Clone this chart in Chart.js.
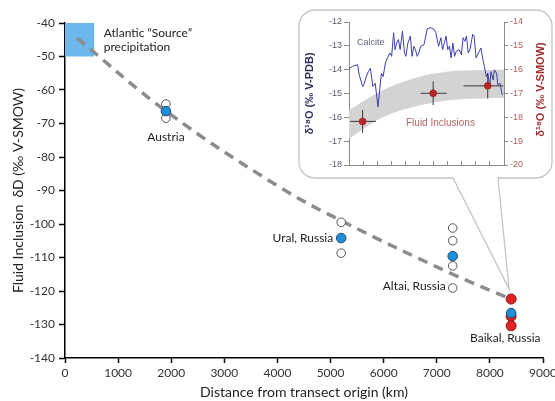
<!DOCTYPE html>
<html><head><meta charset="utf-8">
<script src="https://cdn.jsdelivr.net/npm/chart.js@4"></script>
<style>
html,body{margin:0;padding:0;background:#fff;width:555px;height:401px;overflow:hidden}
#wrap{position:relative;width:555px;height:401px}
#main{position:absolute;left:0;top:0;width:555px;height:401px}
#inset{position:absolute;left:300px;top:12px;width:252px;height:164px}
</style></head><body>
<div id="wrap"><canvas id="main" width="555" height="401"></canvas><canvas id="inset" width="252" height="164"></canvas></div>
<script>
// ---------- main chart data ----------
const sites = ['Austria', 'Ural, Russia', 'Altai, Russia', 'Baikal, Russia'];
const siteDistance = [1900, 5200, 7300, 8400];
const openValues = [[-64.2, -68.4], [-99.5, -108.7], [-101.2, -105.0, -112.5, -119.1], []];
const blueValues = [[-66.3], [-104.2], [-109.6], [-126.6]];
const redValues = [[], [], [], [-122.4, -127.6, -130.4]];
const trendDistance = [226, 1920, 3990, 5200, 7300, 8400];
const trendValues = [-44.5, -66.5, -88.5, -99.0, -115.0, -122.4];
const sourceDistance = [0, 550];
const sourceRange = [-50, -40];
const xTickValues = [0, 1000, 2000, 3000, 4000, 5000, 6000, 7000, 8000, 9000];
const yTickValues = [-140, -130, -120, -110, -100, -90, -80, -70, -60, -50, -40];

// ---------- inset data ----------
const calciteAge = [0, 2.2, 5.5, 6.6, 8.8, 9.9, 11.0, 12.5, 13.8, 15.4, 16.9, 18.7, 19.8, 20.9, 22.0, 23.5, 24.8, 26.4, 27.5, 28.8, 29.7, 30.8, 31.9, 33.0, 34.5, 35.8, 36.7, 38.0, 39.6, 40.7, 41.8, 42.9, 44.0, 45.1, 46.2, 48.4, 50.5, 52.7, 54.9, 56.0, 57.8, 59.3, 60.4, 61.5, 62.6, 63.7, 64.8, 65.9, 67.0, 68.1, 69.2, 71.0, 72.5, 73.6, 74.7, 75.8, 76.9, 78.0, 79.8, 80.7, 82.0, 83.5, 85.1, 86.4, 87.3, 88.6, 89.5, 90.8, 91.6, 93.0, 93.8, 95.2, 96.0, 97.4, 98.9];
const calciteValues = [-13.96, -13.86, -13.79, -14.22, -14.71, -14.57, -14.32, -14.08, -13.94, -14.71, -14.57, -15.56, -14.85, -14.15, -14.29, -13.72, -13.51, -13.30, -13.44, -12.45, -13.16, -12.88, -12.73, -13.16, -12.38, -13.30, -13.44, -12.88, -12.59, -13.44, -13.02, -13.16, -13.44, -13.30, -13.02, -12.95, -12.28, -12.24, -12.31, -12.45, -13.02, -12.66, -13.16, -12.88, -12.59, -13.16, -13.02, -13.51, -12.88, -13.44, -13.23, -13.16, -13.37, -12.66, -12.81, -12.59, -13.30, -13.16, -12.52, -12.59, -13.51, -13.30, -13.09, -13.58, -13.86, -14.29, -14.15, -14.71, -14.08, -14.43, -14.01, -14.15, -14.64, -14.57, -15.06];
const fiAge = [8.8, 54.3, 89.5];
const fiValues = [-18.17, -16.99, -16.68];
const fiAgeErrLow = [8.0, 8.1, 15.6];
const fiAgeErrHigh = [8.5, 8.8, 10.1];
const fiValueErr = [0.48, 0.5, 0.53];
const bandAge = [0, 20, 42, 64, 86, 100];
const bandUpper = [-17.70, -16.92, -16.36, -16.08, -16.01, -16.00];
const bandLower = [-18.90, -18.05, -17.56, -17.28, -17.21, -17.18];
const insetTickValues = [0, 9.09, 18.18, 27.27, 36.36, 45.45, 54.55, 63.64, 72.73, 81.82, 90.91, 100];

// ---------- build point lists ----------
function pts(groups) {
  const out = [];
  groups.forEach((vals, i) => vals.forEach(v => out.push({ x: siteDistance[i], y: v })));
  return out;
}
const FONT = 'Lato, "Open Sans", sans-serif';

const mainPlugin = {
  id: 'mainDecor',
  beforeDatasetsDraw(chart) {
    const { ctx, scales: { x, y } } = chart;
    ctx.save();
    ctx.fillStyle = '#6cb8ec';
    const x0 = x.getPixelForValue(sourceDistance[0]), x1 = x.getPixelForValue(sourceDistance[1]);
    const y0 = y.getPixelForValue(sourceRange[1]), y1 = y.getPixelForValue(sourceRange[0]);
    ctx.fillRect(x0, y0, x1 - x0, y1 - y0);
    ctx.restore();
  },
  afterDatasetsDraw(chart) {
    const { ctx, scales: { x, y } } = chart;
    ctx.save();
    ctx.fillStyle = '#222';
    ctx.font = '12px ' + FONT;
    ctx.textBaseline = 'middle';
    const put = (t, dx, dy, align) => { ctx.textAlign = align; ctx.fillText(t, x.getPixelForValue(dx), y.getPixelForValue(dy)); };
    put('Atlantic \u201cSource\u201d', 730, -43.0, 'left');
    put('precipitation', 730, -47.3, 'left');
    put(sites[0], 1900, -74.0, 'center');
    put(sites[1], 5050, -104.2, 'right');
    put(sites[2], 7170, -118.6, 'right');
    put(sites[3], 8290, -134.2, 'center');
    ctx.restore();
  },
  afterDraw(chart) {
    const { ctx, scales: { x, y } } = chart;
    const L = 299, T = 10, R = 552, B = 178, r = 16, tl = 453, tr = 498;
    const tipX = x.getPixelForValue(siteDistance[3]) - 2;
    const tipY = y.getPixelForValue(redValues[3][0]) - 10;
    ctx.save();
    ctx.beginPath();
    ctx.moveTo(L + r, T);
    ctx.lineTo(R - r, T);
    ctx.arcTo(R, T, R, T + r, r);
    ctx.lineTo(R, B - r);
    ctx.arcTo(R, B, R - r, B, r);
    ctx.lineTo(tr, B);
    ctx.lineTo(tipX, tipY);
    ctx.lineTo(tl, B);
    ctx.lineTo(L + r, B);
    ctx.arcTo(L, B, L, B - r, r);
    ctx.lineTo(L, T + r);
    ctx.arcTo(L, T, L + r, T, r);
    ctx.closePath();
    ctx.fillStyle = '#fff';
    ctx.fill();
    ctx.strokeStyle = '#c4c4c4';
    ctx.lineWidth = 1.3;
    ctx.stroke();
    ctx.restore();
  }
};

new Chart(document.getElementById('main'), {
  type: 'scatter',
  data: {
    datasets: [
      { label: 'red', data: pts(redValues), pointRadius: 5, pointBackgroundColor: '#e02424', pointBorderColor: '#8a1a1a', pointBorderWidth: 1, order: 1 },
      { label: 'blue', data: pts(blueValues), pointRadius: 4.8, pointBackgroundColor: '#1e8fd6', pointBorderColor: '#1f4d78', pointBorderWidth: 1, order: 0 },
      { label: 'open', data: pts(openValues), pointRadius: 4.3, pointBackgroundColor: '#fff', pointBorderColor: '#555', pointBorderWidth: 1, order: 2 },
      { label: 'trend', data: trendDistance.map((d, i) => ({ x: d, y: trendValues[i] })), showLine: true, pointRadius: 0, borderColor: '#8c8c8c', borderWidth: 3.5, borderDash: [10, 7], tension: 0.4, order: 5 }
    ]
  },
  options: {
    responsive: false, animation: false,
    layout: { padding: { top: 23, right: 12, left: 0, bottom: 0 } },
    plugins: { legend: { display: false }, tooltip: { enabled: false } },
    scales: {
      x: {
        type: 'linear', min: 0, max: 9000,
        afterBuildTicks(s) { s.ticks = xTickValues.map(v => ({ value: v })); },
        ticks: { color: '#333', font: { family: FONT, size: 12 }, padding: 3, callback: v => String(v), maxRotation: 0, autoSkip: false },
        grid: { drawOnChartArea: false, color: '#000', tickLength: 5, tickWidth: 1.5 },
        border: { color: '#000', width: 1.5 },
        title: { display: true, text: 'Distance from transect origin (km)', color: '#222', font: { family: FONT, size: 14 }, padding: { top: 0, bottom: 0 } },
        afterFit(s) { s.height = 43; s.paddingLeft = 0; s.paddingRight = 0; }
      },
      y: {
        type: 'linear', min: -140, max: -40,
        afterBuildTicks(s) { s.ticks = yTickValues.map(v => ({ value: v })); },
        ticks: { color: '#333', font: { family: FONT, size: 12 }, padding: 4, callback: v => String(v) },
        grid: { drawOnChartArea: false, color: '#000', tickLength: 6, tickWidth: 1.5 },
        border: { color: '#000', width: 1.5 },
        title: { display: true, text: 'Fluid Inclusion  \u03b4D (\u2030 V-SMOW)', color: '#222', font: { family: FONT, size: 14 }, padding: { top: 10, bottom: 0 } },
        afterFit(s) { s.width = 65; s.paddingTop = 0; s.paddingBottom = 0; }
      }
    }
  },
  plugins: [mainPlugin]
});

// ---------- inset ----------
const IFONT = '"Liberation Sans", Arial, sans-serif';
const insetPlugin = {
  id: 'insetDecor',
  beforeDatasetDraw(chart, args) {
    if (args.index !== 3) return;
    const { ctx, scales: { x, yR } } = chart;
    ctx.save();
    ctx.strokeStyle = '#3a3a3a';
    ctx.lineWidth = 1;
    fiAge.forEach((a, i) => {
      const px = x.getPixelForValue(a), py = yR.getPixelForValue(fiValues[i]);
      ctx.beginPath();
      ctx.moveTo(x.getPixelForValue(a - fiAgeErrLow[i]), py);
      ctx.lineTo(x.getPixelForValue(a + fiAgeErrHigh[i]), py);
      ctx.moveTo(px, yR.getPixelForValue(fiValues[i] - fiValueErr[i]));
      ctx.lineTo(px, yR.getPixelForValue(fiValues[i] + fiValueErr[i]));
      ctx.stroke();
    });
    ctx.restore();
  },
  afterDatasetsDraw(chart) {
    const { ctx, scales: { x, yL, yR }, chartArea } = chart;
    ctx.save();
    ctx.textAlign = 'center'; ctx.textBaseline = 'middle';
    ctx.font = '9px ' + IFONT; ctx.fillStyle = '#5d6280';
    ctx.fillText('Calcite', x.getPixelForValue(14), yL.getPixelForValue(-12.85));
    ctx.font = '10px ' + IFONT; ctx.fillStyle = '#b86464';
    ctx.fillText('Fluid Inclusions', x.getPixelForValue(59), yR.getPixelForValue(-18.25));
    // right-hand axis title, reading bottom to top
    ctx.translate(241, (chartArea.top + chartArea.bottom) / 2 - 4);
    ctx.rotate(-Math.PI / 2);
    ctx.font = 'bold 11px ' + IFONT; ctx.fillStyle = '#a02c2c';
    ctx.fillText('\u03b4\u00b9\u2078O (\u2030 V-SMOW)', 0, 0);
    ctx.restore();
  }
};

new Chart(document.getElementById('inset'), {
  type: 'line',
  data: {
    datasets: [
      { data: bandAge.map((a, i) => ({ x: a, y: bandUpper[i] })), yAxisID: 'yR', borderWidth: 0, pointRadius: 0, fill: false, tension: 0.4, cubicInterpolationMode: 'monotone', order: 3 },
      { data: bandAge.map((a, i) => ({ x: a, y: bandLower[i] })), yAxisID: 'yR', borderWidth: 0, pointRadius: 0, fill: '-1', backgroundColor: '#d3d3d3', tension: 0.4, cubicInterpolationMode: 'monotone', order: 2 },
      { data: calciteAge.map((a, i) => ({ x: a, y: calciteValues[i] })), yAxisID: 'yL', borderColor: '#3b3fb0', borderWidth: 1, pointRadius: 0, fill: false, tension: 0, order: 1 },
      { data: fiAge.map((a, i) => ({ x: a, y: fiValues[i] })), yAxisID: 'yR', showLine: false, pointRadius: 3.5, pointBackgroundColor: '#b82626', pointBorderColor: '#8a1a1a', pointBorderWidth: 0.5, order: 0 }
    ]
  },
  options: {
    responsive: false, animation: false,
    layout: { padding: { top: 10, bottom: 0, left: 0, right: 0 } },
    plugins: { legend: { display: false }, tooltip: { enabled: false } },
    scales: {
      x: {
        type: 'linear', min: 0, max: 100,
        afterBuildTicks(s) { s.ticks = insetTickValues.map(v => ({ value: v })); },
        ticks: { display: false },
        grid: { drawOnChartArea: false, color: '#8a8a8a', tickLength: -4 },
        border: { color: '#8a8a8a', width: 1 },
        afterFit(s) { s.height = 11; s.paddingLeft = 0; s.paddingRight = 0; }
      },
      yL: {
        type: 'linear', position: 'left', min: -18, max: -12,
        ticks: { stepSize: 1, color: '#555a70', font: { family: IFONT, size: 9 }, padding: 2, callback: v => String(v) },
        grid: { drawOnChartArea: false, color: '#8a8a8a', tickLength: 5 },
        border: { color: '#8a8a8a', width: 1 },
        title: { display: true, text: '\u03b4\u00b9\u2078O (\u2030 V-PDB)', color: '#2e3060', font: { family: IFONT, size: 11, weight: 'bold' }, padding: { top: 3, bottom: 0 } },
        afterFit(s) { s.width = 49; s.paddingTop = 0; s.paddingBottom = 0; }
      },
      yR: {
        type: 'linear', position: 'right', min: -20, max: -14,
        ticks: { stepSize: 1, color: '#b06060', font: { family: IFONT, size: 9 }, padding: 2, callback: v => String(v) },
        grid: { drawOnChartArea: false, color: '#8a8a8a', tickLength: 4 },
        border: { color: '#8a8a8a', width: 1 },
        title: { display: false },
        afterFit(s) { s.width = 48; s.paddingTop = 0; s.paddingBottom = 0; }
      }
    }
  },
  plugins: [insetPlugin]
});
</script></body></html>
